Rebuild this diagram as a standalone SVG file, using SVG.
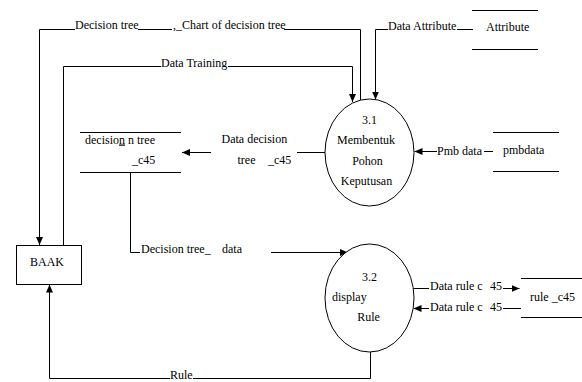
<svg xmlns="http://www.w3.org/2000/svg" width="582" height="382" viewBox="0 0 582 382">
  <defs>
    <style>
      text { font-family: "Liberation Serif", "Times New Roman", serif; font-size: 12px; fill: #000; }
      .mid { text-anchor: middle; }
      .ln { fill: none; stroke: #000; stroke-width: 1; }
      .shape { fill: #fff; stroke: #000; stroke-width: 1; }
    </style>
    <marker id="arrow" viewBox="0 0 8 8" refX="8" refY="4" markerWidth="8" markerHeight="8" markerUnits="userSpaceOnUse" orient="auto">
      <path d="M0,0.5 L8,4 L0,7.5 Z" fill="#000"/>
    </marker>
  </defs>
  <rect width="582" height="382" fill="#fff"/>

  <!-- data flows -->
  <g id="connectors">
    <!-- 3.1 -> BAAK : Decision tree, Chart of decision tree -->
    <path class="ln" d="M360.5,100 V29.5 H284"/>
    <path class="ln" d="M172,29.5 H138"/>
    <path class="ln" d="M75,29.5 H39.5 V245" marker-end="url(#arrow)"/>
    <text x="75" y="29">Decision tree</text>
    <text x="173" y="29">,_Chart of decision tree</text>

    <!-- BAAK -> 3.1 : Data Training -->
    <path class="ln" d="M63.5,245 V66.5 H161"/>
    <path class="ln" d="M228,66.5 H352.5 V102" marker-end="url(#arrow)"/>
    <text x="161" y="67">Data Training</text>

    <!-- Attribute -> 3.1 -->
    <path class="ln" d="M473,29.5 H457"/>
    <path class="ln" d="M388,29.5 H375.5 V99.5" marker-end="url(#arrow)"/>
    <text x="388" y="30">Data Attribute</text>

    <!-- 3.1 -> decision tree store -->
    <path class="ln" d="M325,152.5 H297"/>
    <path class="ln" d="M211,152.5 H182" marker-end="url(#arrow)"/>
    <text x="221.5" y="143">Data decision</text>
    <text y="163.5"><tspan x="237.5">tree</tspan><tspan x="268">_c45</tspan></text>

    <!-- decision tree store -> 3.2 -->
    <path class="ln" d="M130.5,172.5 V252.5 H140"/>
    <path class="ln" d="M271,252.5 H348" marker-end="url(#arrow)"/>
    <text y="252.5"><tspan x="141">Decision tree_</tspan><tspan x="222">data</tspan></text>

    <!-- pmbdata -> 3.1 -->
    <path class="ln" d="M493,151.5 H484"/>
    <path class="ln" d="M437,151.5 H414.5" marker-end="url(#arrow)"/>
    <text x="437" y="155">Pmb data</text>

    <!-- 3.2 <-> rule_c45 -->
    <path class="ln" d="M413.5,288.5 H429"/>
    <path class="ln" d="M503,288.5 H519.5" marker-end="url(#arrow)"/>
    <text y="290"><tspan x="430">Data rule c</tspan><tspan x="490">45</tspan></text>
    <path class="ln" d="M521,308.5 H503"/>
    <path class="ln" d="M429,308.5 H413.5" marker-end="url(#arrow)"/>
    <text y="311"><tspan x="430">Data rule c</tspan><tspan x="490">45</tspan></text>

    <!-- 3.2 -> BAAK : Rule -->
    <path class="ln" d="M370.5,352 V378.5 H193"/>
    <path class="ln" d="M170,378.5 H49.5 V284.5" marker-end="url(#arrow)"/>
    <text x="170" y="378.5">Rule</text>
  </g>

  <!-- external entity -->
  <g id="baak">
    <rect class="shape" x="16.5" y="245.5" width="65" height="39"/>
    <text class="mid" x="47" y="266">BAAK</text>
  </g>

  <!-- process 3.1 -->
  <g id="proc-3-1">
    <ellipse class="shape" cx="369.5" cy="152.5" rx="44.5" ry="53.5"/>
    <text class="mid" x="369.5" y="123.5">3.1</text>
    <text class="mid" x="366" y="143.5">Membentuk</text>
    <text class="mid" x="367.5" y="164.5">Pohon</text>
    <text class="mid" x="366.5" y="184.5">Keputusan</text>
  </g>

  <!-- process 3.2 -->
  <g id="proc-3-2">
    <ellipse class="shape" cx="369.5" cy="298" rx="44.5" ry="54"/>
    <text class="mid" x="369.5" y="281">3.2</text>
    <text x="332" y="301">display</text>
    <text class="mid" x="368.5" y="321">Rule</text>
  </g>

  <!-- data stores -->
  <g id="store-attribute">
    <path class="ln" d="M472,10.5 H538 M472,49.5 H538"/>
    <text x="486" y="31">Attribute</text>
  </g>

  <g id="store-decision-tree">
    <path class="ln" d="M80,132.5 H181 M80,172.5 H181"/>
    <text x="85" y="143.5">decisio<tspan text-decoration="underline">n</tspan> n tree</text>
    <text x="132" y="163.5">_c45</text>
  </g>

  <g id="store-pmbdata">
    <path class="ln" d="M493,132.5 H559 M493,171.5 H559"/>
    <text x="503" y="153.5">pmbdata</text>
  </g>

  <g id="store-rule">
    <path class="ln" d="M521,278.5 H582 M521,317.5 H582"/>
    <text x="530" y="300.5">rule _c45</text>
  </g>
</svg>
